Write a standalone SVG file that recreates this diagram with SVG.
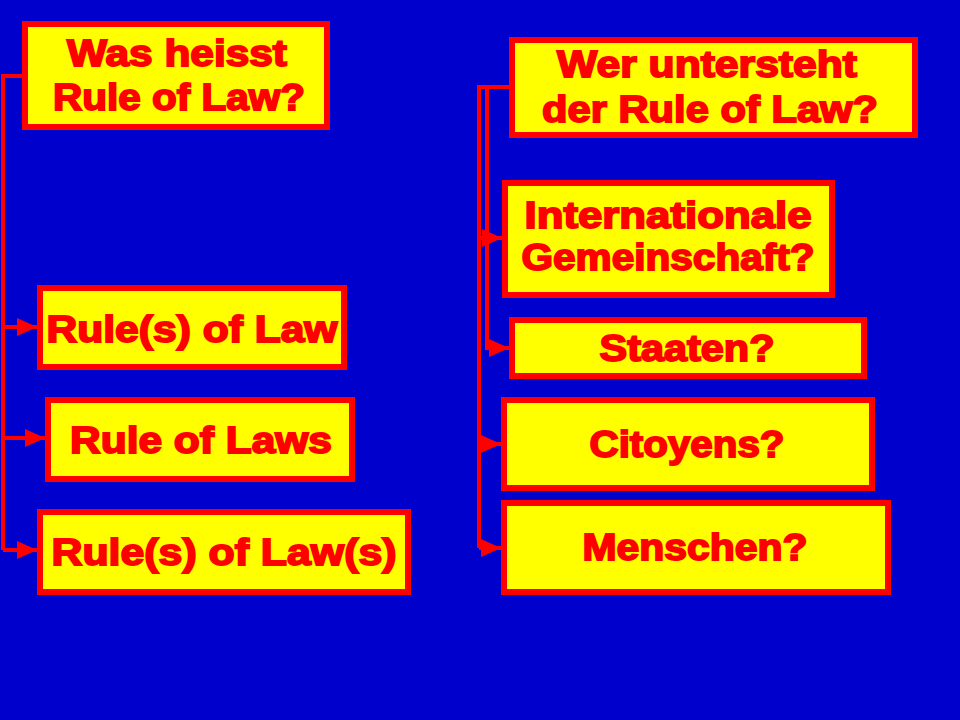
<svg xmlns="http://www.w3.org/2000/svg" width="960" height="720" viewBox="0 0 960 720">
<defs>
<style>
.box{fill:#FFFF00;stroke:#FF0000;stroke-width:6}
.t{font-family:"Liberation Sans",Arial,sans-serif;font-weight:bold;font-size:37px;fill:#FF0000;stroke:#FF0000;stroke-width:1.8;text-anchor:middle}
.c{fill:none;stroke:#FF0000;stroke-width:4}
</style>
<marker id="ah" markerUnits="userSpaceOnUse" markerWidth="22" markerHeight="20" refX="20" refY="10" orient="auto">
<path d="M0,1 L20,10 L0,19 Z" fill="#FF0000"/>
</marker>
</defs>
<rect width="960" height="720" fill="#0000CC"/>
<g id="connectors">
<path class="c" d="M22,76 H3 V550"/>
<path class="c" d="M3,327 H37" marker-end="url(#ah)"/>
<path class="c" d="M3,438 H45" marker-end="url(#ah)"/>
<path class="c" d="M3,550 H37" marker-end="url(#ah)"/>
<path class="c" d="M509,87 H479 V548"/>
<path class="c" d="M487,87 V348 H509" marker-end="url(#ah)"/>
<path class="c" d="M479,238 H502" marker-end="url(#ah)"/>
<path class="c" d="M479,444 H501" marker-end="url(#ah)"/>
<path class="c" d="M479,548 H501" marker-end="url(#ah)"/>
</g>
<g id="n1"><rect class="box" x="25" y="24" width="302" height="103"/>
<text class="t" x="177" y="66" textLength="220" lengthAdjust="spacingAndGlyphs">Was heisst</text>
<text class="t" x="179" y="110" textLength="252" lengthAdjust="spacingAndGlyphs">Rule of Law?</text></g>
<g id="n2"><rect class="box" x="40" y="288" width="304" height="79"/>
<text class="t" x="192" y="342" textLength="291" lengthAdjust="spacingAndGlyphs">Rule(s) of Law</text></g>
<g id="n3"><rect class="box" x="48" y="400" width="304" height="79"/>
<text class="t" x="201" y="453" textLength="262" lengthAdjust="spacingAndGlyphs">Rule of Laws</text></g>
<g id="n4"><rect class="box" x="40" y="512" width="368" height="80"/>
<text class="t" x="224" y="565" textLength="345" lengthAdjust="spacingAndGlyphs">Rule(s) of Law(s)</text></g>
<g id="n5"><rect class="box" x="512" y="40" width="403" height="95"/>
<text class="t" x="707" y="77" textLength="300" lengthAdjust="spacingAndGlyphs">Wer untersteht</text>
<text class="t" x="710" y="122" textLength="336" lengthAdjust="spacingAndGlyphs">der Rule of Law?</text></g>
<g id="n6"><rect class="box" x="505" y="183" width="327" height="112"/>
<text class="t" x="668" y="228" textLength="287" lengthAdjust="spacingAndGlyphs">Internationale</text>
<text class="t" x="668" y="270" textLength="293" lengthAdjust="spacingAndGlyphs">Gemeinschaft?</text></g>
<g id="n7"><rect class="box" x="512" y="320" width="352" height="56"/>
<text class="t" x="687" y="361" textLength="175" lengthAdjust="spacingAndGlyphs">Staaten?</text></g>
<g id="n8"><rect class="box" x="504" y="400" width="368" height="88"/>
<text class="t" x="687" y="457" textLength="195" lengthAdjust="spacingAndGlyphs">Citoyens?</text></g>
<g id="n9"><rect class="box" x="504" y="503" width="384" height="89"/>
<text class="t" x="695" y="560" textLength="225" lengthAdjust="spacingAndGlyphs">Menschen?</text></g>
</svg>
